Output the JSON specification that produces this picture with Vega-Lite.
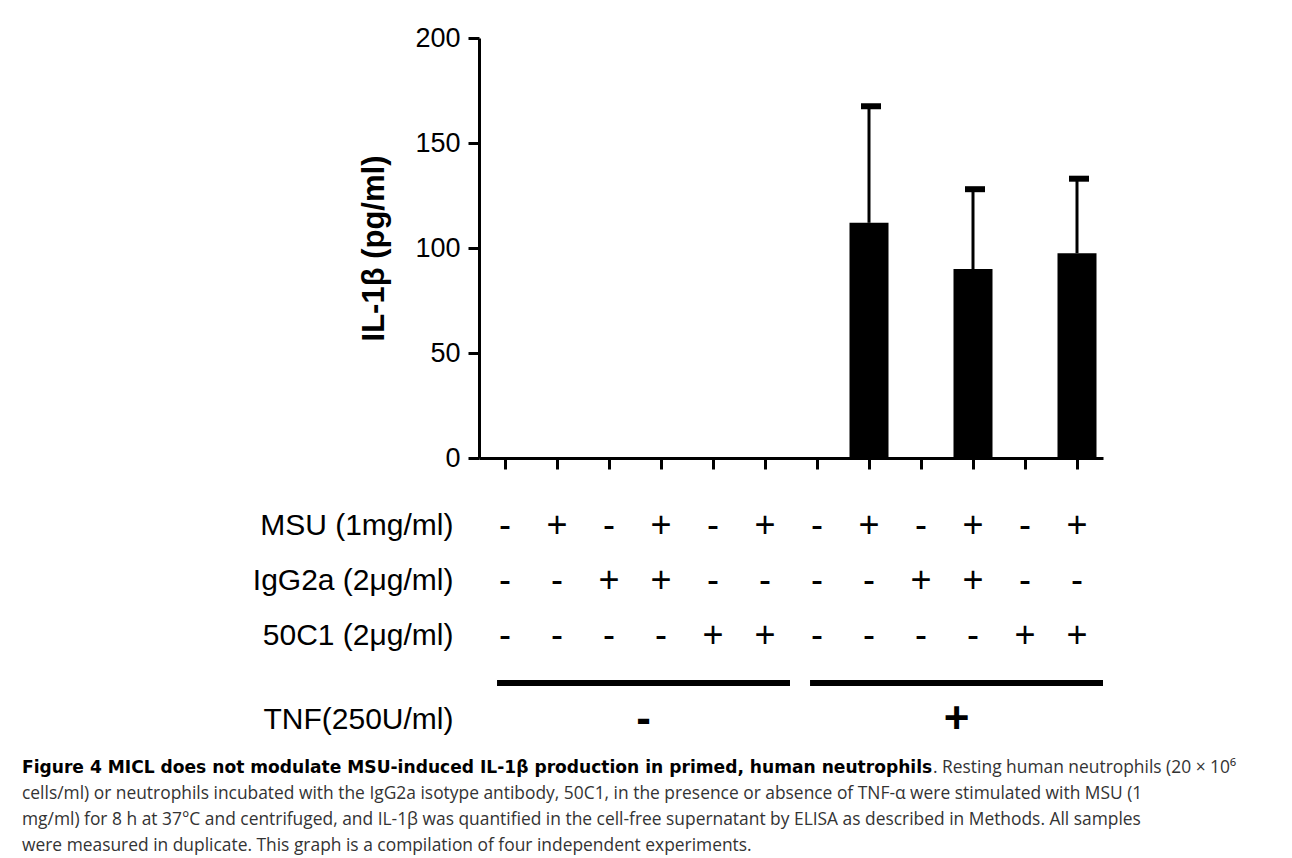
{
  "$schema": "https://vega.github.io/schema/vega-lite/v6.json",
  "padding": {"left": 22, "top": 24, "right": 5, "bottom": 5},
  "spacing": 13,
  "datasets": {
    "conditions": [
      {"cond": 1, "msu": "-", "igg": "-", "c50": "-", "tnf": "-", "il1b": 0, "upper": 0},
      {"cond": 2, "msu": "+", "igg": "-", "c50": "-", "tnf": "-", "il1b": 0, "upper": 0},
      {"cond": 3, "msu": "-", "igg": "+", "c50": "-", "tnf": "-", "il1b": 0, "upper": 0},
      {"cond": 4, "msu": "+", "igg": "+", "c50": "-", "tnf": "-", "il1b": 0, "upper": 0},
      {"cond": 5, "msu": "-", "igg": "-", "c50": "+", "tnf": "-", "il1b": 0, "upper": 0},
      {"cond": 6, "msu": "+", "igg": "-", "c50": "+", "tnf": "-", "il1b": 0, "upper": 0},
      {"cond": 7, "msu": "-", "igg": "-", "c50": "-", "tnf": "+", "il1b": 0, "upper": 0},
      {"cond": 8, "msu": "+", "igg": "-", "c50": "-", "tnf": "+", "il1b": 112, "upper": 167.5},
      {"cond": 9, "msu": "-", "igg": "+", "c50": "-", "tnf": "+", "il1b": 0, "upper": 0},
      {"cond": 10, "msu": "+", "igg": "+", "c50": "-", "tnf": "+", "il1b": 90, "upper": 128},
      {"cond": 11, "msu": "-", "igg": "-", "c50": "+", "tnf": "+", "il1b": 0, "upper": 0},
      {"cond": 12, "msu": "+", "igg": "-", "c50": "+", "tnf": "+", "il1b": 97.5, "upper": 133}
    ],
    "caption": [
      {"line": 1, "style": "bold", "text": "Figure 4 MICL does not modulate MSU-induced IL-1β production in primed, human neutrophils"},
      {"line": 1, "style": "tail", "text": ". Resting human neutrophils (20 × 10⁶"},
      {"line": 2, "style": "plain", "text": "cells/ml) or neutrophils incubated with the IgG2a isotype antibody, 50C1, in the presence or absence of TNF-α were stimulated with MSU (1"},
      {"line": 3, "style": "plain", "text": "mg/ml) for 8 h at 37°C and centrifuged, and IL-1β was quantified in the cell-free supernatant by ELISA as described in Methods. All samples"},
      {"line": 4, "style": "plain", "text": "were measured in duplicate. This graph is a compilation of four independent experiments."}
    ]
  },
  "vconcat": [
    {
      "width": 624,
      "height": 420,
      "data": {"name": "conditions"},
      "encoding": {
        "x": {
          "field": "cond",
          "type": "ordinal",
          "scale": {"type": "band", "paddingInner": 0.25, "paddingOuter": 0.125},
          "axis": {"labels": false, "title": null, "domainWidth": 3, "tickWidth": 3, "tickSize": 11}
        }
      },
      "layer": [
        {
          "mark": {"type": "bar", "color": "#000"},
          "encoding": {
            "y": {
              "field": "il1b",
              "type": "quantitative",
              "title": "IL-1β (pg/ml)",
              "scale": {"domain": [0, 200], "nice": false},
              "axis": {
                "values": [0, 50, 100, 150, 200],
                "titleFontSize": 31,
                "titleFontWeight": "bold",
                "titlePadding": 24,
                "labelFontSize": 27,
                "labelPadding": 8,
                "tickSize": 11,
                "tickWidth": 3,
                "domainWidth": 3
              }
            }
          }
        },
        {
          "transform": [{"filter": "datum.upper > datum.il1b"}],
          "mark": {"type": "rule", "strokeWidth": 3, "color": "#000"},
          "encoding": {
            "y": {"field": "il1b", "type": "quantitative", "title": "IL-1β (pg/ml)"},
            "y2": {"field": "upper"}
          }
        },
        {
          "transform": [{"filter": "datum.upper > datum.il1b"}],
          "mark": {"type": "tick", "thickness": 6, "size": 20, "color": "#000", "opacity": 1, "xOffset": 2},
          "encoding": {
            "y": {"field": "upper", "type": "quantitative", "title": "IL-1β (pg/ml)"}
          }
        }
      ]
    },
    {
      "width": 624,
      "height": 182.5,
      "data": {"name": "conditions"},
      "transform": [{"fold": ["msu", "igg", "c50"], "as": ["factor", "sign"]}],
      "mark": {"type": "text", "fontSize": 36, "color": "#000", "baseline": "middle"},
      "encoding": {
        "x": {
          "field": "cond",
          "type": "ordinal",
          "scale": {"type": "band", "paddingInner": 0.25, "paddingOuter": 0.125},
          "axis": null
        },
        "y": {
          "field": "factor",
          "type": "nominal",
          "scale": {"type": "band", "domain": ["msu", "igg", "c50"], "paddingInner": 0, "paddingOuter": 0.159, "align": 0.83},
          "axis": {
            "title": null,
            "ticks": false,
            "domain": false,
            "labelFontSize": 30,
            "labelPadding": 26,
            "labelLimit": 0,
            "labelExpr": "datum.value == 'msu' ? 'MSU (1mg/ml)' : datum.value == 'igg' ? 'IgG2a (2μg/ml)' : '50C1 (2μg/ml)'"
          }
        },
        "text": {"field": "sign"}
      }
    },
    {
      "width": 624,
      "height": 40,
      "data": {"name": "conditions"},
      "transform": [{"aggregate": [{"op": "count", "as": "n"}], "groupby": ["tnf"]}],
      "encoding": {
        "x": {
          "field": "tnf",
          "type": "nominal",
          "scale": {"type": "band", "domain": ["-", "+"], "paddingInner": 0.064, "paddingOuter": 0.0288, "align": 1},
          "axis": null
        }
      },
      "layer": [
        {
          "mark": {"type": "rule", "strokeWidth": 6, "color": "#000"},
          "encoding": {
            "x": {"field": "tnf", "type": "nominal", "bandPosition": 0},
            "x2": {"field": "tnf", "bandPosition": 1},
            "y": {"datum": "TNF(250U/ml)", "type": "nominal", "bandPosition": 0}
          }
        },
        {
          "mark": {"type": "text", "fontSize": 44, "fontWeight": "bold", "color": "#000", "dy": 17, "baseline": "middle"},
          "encoding": {
            "text": {"field": "tnf"},
            "y": {
              "datum": "TNF(250U/ml)",
              "type": "nominal",
              "axis": {"title": null, "ticks": false, "domain": false, "labelFontSize": 30, "labelPadding": 26, "labelOffset": 17, "labelLimit": 0}
            }
          }
        }
      ]
    },
    {
      "width": 624,
      "height": 104,
      "data": {"name": "caption"},
      "encoding": {
        "y": {"field": "line", "type": "ordinal", "axis": null},
        "text": {"field": "text"}
      },
      "layer": [
        {
          "transform": [{"filter": "datum.style == 'bold'"}],
          "mark": {"type": "text", "align": "left", "baseline": "middle", "x": -457, "font": "DejaVu Sans", "fontSize": 17.1, "fontWeight": "bold", "color": "#000"}
        },
        {
          "transform": [{"filter": "datum.style == 'tail'"}],
          "mark": {"type": "text", "align": "left", "baseline": "middle", "x": -457, "dx": 911, "font": "Open Sans", "fontSize": 17.4, "color": "#333"}
        },
        {
          "transform": [{"filter": "datum.style == 'plain'"}],
          "mark": {"type": "text", "align": "left", "baseline": "middle", "x": -457, "font": "Open Sans", "fontSize": 17.4, "color": "#333"}
        }
      ]
    }
  ],
  "config": {
    "view": {"stroke": null},
    "font": "Liberation Sans",
    "axis": {"grid": false, "domainColor": "#000", "tickColor": "#000", "labelColor": "#000", "titleColor": "#000", "labelFont": "Liberation Sans", "titleFont": "Liberation Sans"}
  }
}
